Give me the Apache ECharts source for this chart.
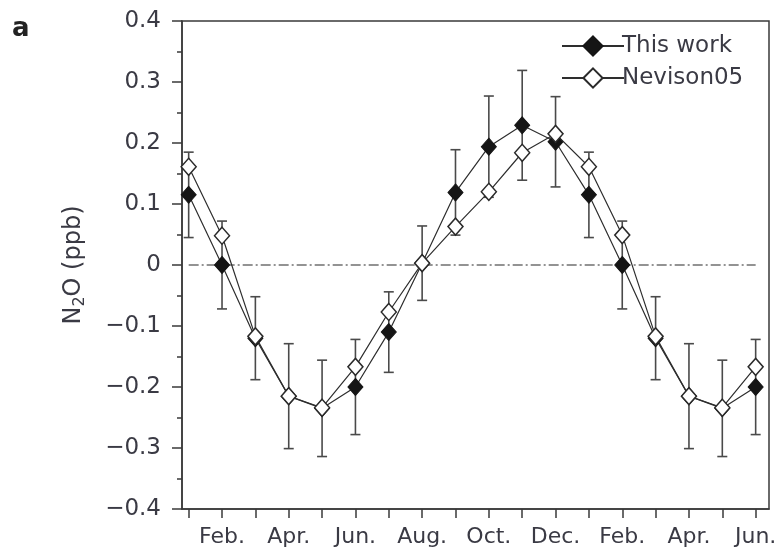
<!DOCTYPE html>
<html>
<head>
<meta charset="utf-8">
<script src="https://cdn.jsdelivr.net/npm/echarts@6/dist/echarts.min.js"></script>
<style>
html,body{margin:0;padding:0;background:#fff;}
#chart{width:782px;height:556px;}
</style>
</head>
<body>
<div id="chart"></div>
<script>
// Month index (1 = Jan of year 1 ... 18 = Jun of year 2)
var monthIndex = [1,2,3,4,5,6,7,8,9,10,11,12,13,14,15,16,17,18];
var tickLabels = {2:'Feb.',4:'Apr.',6:'Jun.',8:'Aug.',10:'Oct.',12:'Dec.',14:'Feb.',16:'Apr.',18:'Jun.'};
var thisWork = [0.115, 0.000, -0.120, -0.215, -0.235, -0.200, -0.110, 0.003, 0.119, 0.194, 0.229, 0.202, 0.115, 0.000, -0.120, -0.215, -0.235, -0.200];
var nevison05 = [0.161, 0.048, -0.117, -0.215, -0.234, -0.167, -0.077, 0.003, 0.063, 0.120, 0.184, 0.215, 0.161, 0.049, -0.117, -0.215, -0.234, -0.167];
var thisWorkErr = [0.070, 0.072, 0.068, 0.086, 0.079, 0.078, 0.066, 0.061, 0.070, 0.083, 0.090, 0.074, 0.070, 0.072, 0.068, 0.086, 0.079, 0.078];

var FONT = 'DejaVu Sans';
var TXT = '#3a3a44';

var twData = monthIndex.map(function(m,i){return [m, thisWork[i]];});
var nvData = monthIndex.map(function(m,i){return [m, nevison05[i]];});
var errData = monthIndex.map(function(m,i){return [m, thisWork[i]-thisWorkErr[i], thisWork[i]+thisWorkErr[i]];});
var zeroData = [[monthIndex[0],0],[monthIndex[monthIndex.length-1],0]];

var chart = echarts.init(document.getElementById('chart'), null, {renderer:'canvas'});
chart.setOption({
  animation:false,
  backgroundColor:'#fff',
  graphic:[{type:'text', x:12, y:29, style:{text:'a', fontFamily:FONT, fontWeight:'bold', fontSize:26, fill:'#222', verticalAlign:'middle', align:'left'}}],
  legend:{
    orient:'vertical', left:556, top:29,
    itemWidth:62, itemHeight:24, itemGap:8,
    textStyle:{fontFamily:FONT, fontSize:23, lineHeight:24, color:TXT, padding:[0,0,0,-7]},
    data:['This work','Nevison05']
  },
  grid:{left:182, right:13, top:21, bottom:47, show:true, borderColor:'#3a3a3a', borderWidth:1.5, backgroundColor:'transparent'},
  xAxis:{
    type:'value', min:0.8, max:18.4,
    axisLine:{show:true, onZero:false, lineStyle:{color:'#3a3a3a', width:1.5}},
    axisTick:{show:true, inside:false, length:9, lineStyle:{color:'#3a3a3a', width:1.5}, customValues:monthIndex},
    axisLabel:{show:true, customValues:Object.keys(tickLabels).map(Number), margin:17, fontFamily:FONT, fontSize:22, color:TXT,
      formatter:function(v){return tickLabels[Math.round(v)]||'';}},
    splitLine:{show:false}
  },
  yAxis:{
    type:'value', min:-0.4, max:0.4, interval:0.1,
    name:'{n|N}{s|2}{n|O (ppb)}', nameLocation:'middle', nameGap:94, nameRotate:90,
    nameTextStyle:{rich:{n:{fontFamily:FONT, fontSize:24, color:TXT}, s:{fontFamily:FONT, fontSize:16, color:TXT, verticalAlign:'bottom', padding:[12,0,0,0]}}},
    axisLine:{show:true, onZero:false, lineStyle:{color:'#3a3a3a', width:1.5}},
    axisTick:{show:true, inside:false, length:10, lineStyle:{color:'#3a3a3a', width:1.5}},
    minorTick:{show:true, splitNumber:2, length:5, lineStyle:{color:'#3a3a3a', width:1.5}},
    axisLabel:{margin:21, fontFamily:FONT, fontSize:23, color:TXT,
      formatter:function(v){ if(Math.abs(v)<1e-9) return '0'; return (v<0?'\u2212':'')+Math.abs(v).toFixed(1);}},
    splitLine:{show:false}
  },
  series:[
    {type:'line', data:zeroData, symbol:'none', silent:true, z:1,
      lineStyle:{color:'#707070', width:1.3, type:[10,3,2,3]}},
    {type:'custom', data:errData, z:2, silent:true,
      renderItem:function(params, api){
        var x = api.value(0);
        var lo = api.coord([x, api.value(1)]);
        var hi = api.coord([x, api.value(2)]);
        var cw = 5;
        var st = {stroke:'#4a4a4a', lineWidth:1.6};
        return {type:'group', children:[
          {type:'line', shape:{x1:lo[0], y1:lo[1], x2:hi[0], y2:hi[1]}, style:st},
          {type:'line', shape:{x1:lo[0]-cw, y1:lo[1], x2:lo[0]+cw, y2:lo[1]}, style:st},
          {type:'line', shape:{x1:hi[0]-cw, y1:hi[1], x2:hi[0]+cw, y2:hi[1]}, style:st}
        ]};
      }},
    {name:'This work', type:'line', data:twData, z:3, symbol:'diamond', symbolSize:[15,17],
      lineStyle:{color:'#2e2e2e', width:1.2},
      itemStyle:{color:'#151515', borderColor:'#151515', borderWidth:1}},
    {name:'Nevison05', type:'line', data:nvData, z:4, symbol:'diamond', symbolSize:[15,17],
      lineStyle:{color:'#2e2e2e', width:1.2},
      itemStyle:{color:'#ffffff', borderColor:'#2a2a2a', borderWidth:1.5}}
  ]
});
</script>
</body>
</html>
